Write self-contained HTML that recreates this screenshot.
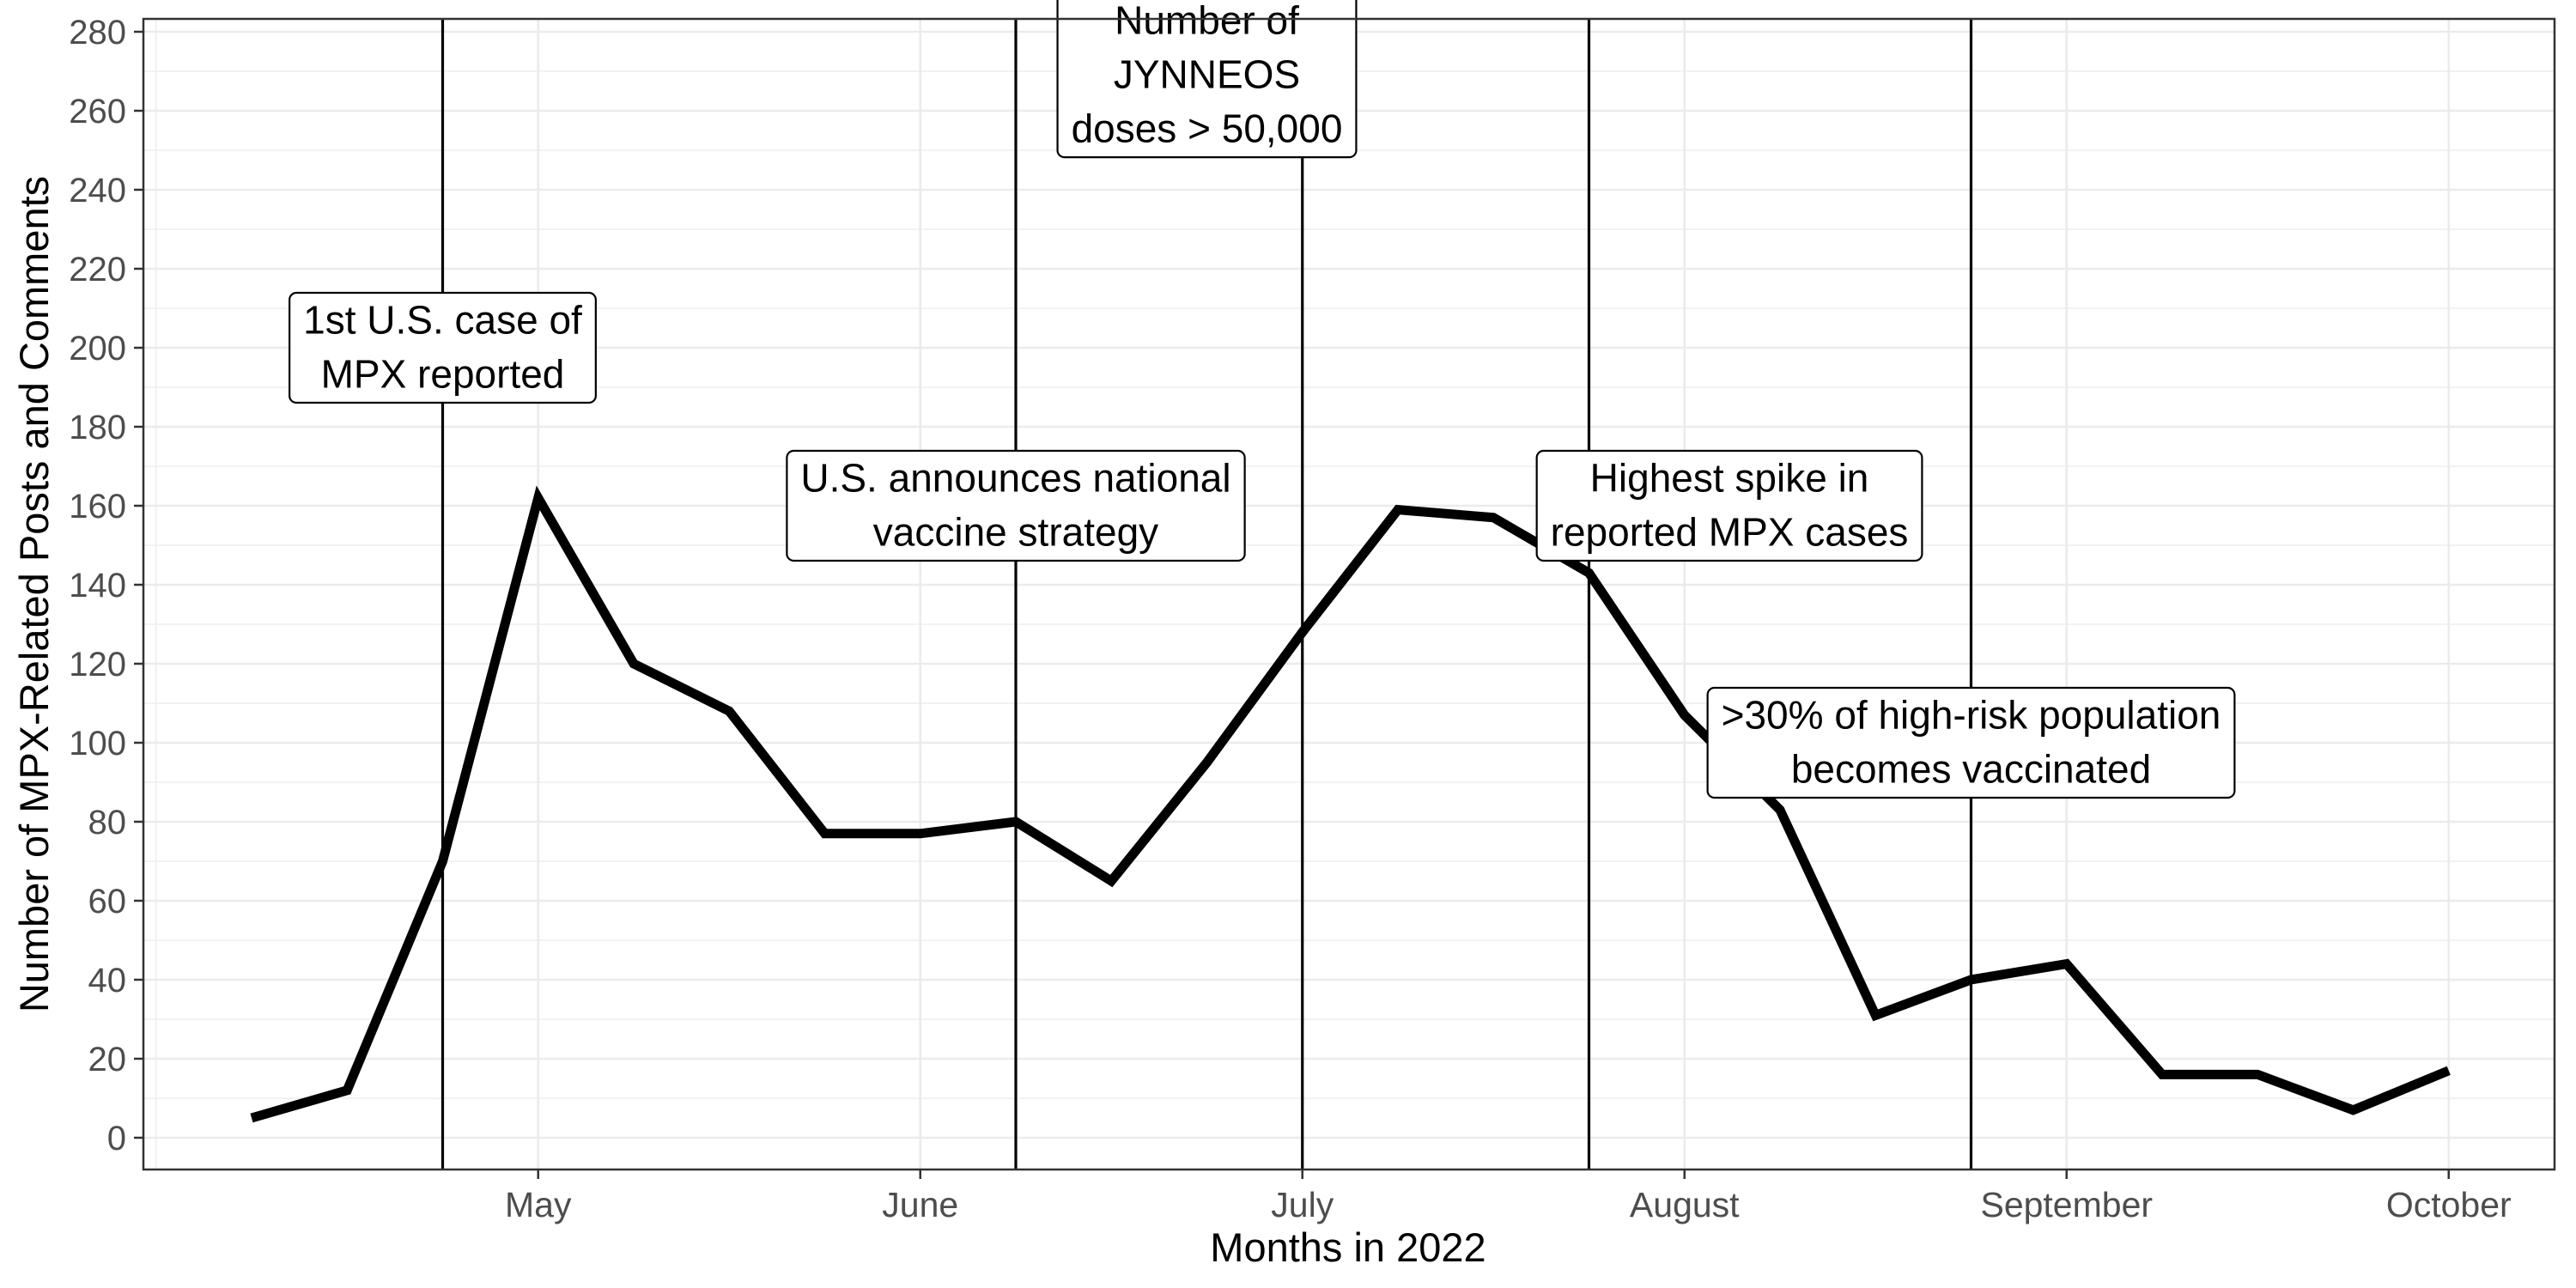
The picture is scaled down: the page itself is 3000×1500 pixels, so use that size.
<!DOCTYPE html>
<html><head><meta charset="utf-8">
<style>
html,body{margin:0;padding:0;background:#fff;}
svg{display:block;font-family:"Liberation Sans",Arial,sans-serif;}
</style></head>
<body>
<svg id="chart" width="3000" height="1500" viewBox="0 0 3000 1500" xmlns="http://www.w3.org/2000/svg">
<rect x="0" y="0" width="3000" height="1500" fill="#fff"/>
<g id="grid"></g>
<g id="vlines"></g>
<g id="series"></g>
<g id="labels"></g>
<rect x="167" y="22" width="2808" height="1340" fill="none" stroke="#333" stroke-width="2.5"/>
<g id="axes"></g>
<text x="1570" y="1469" font-size="47" text-anchor="middle" fill="#000">Months in 2022</text>
<text transform="translate(56,692) rotate(-90)" font-size="47" text-anchor="middle" fill="#000">Number of MPX-Related Posts and Comments</text>
</svg>
<script>
const values = [5,12,70,162,120,108,77,77,80,65,95,128,159,157,143,107,83,31,40,44,16,16,7,17];
const monthLabels = ["May","June","July","August","September","October"];
const monthIndex = [3,7,11,15,19,23];
const yTicks = [0,20,40,60,80,100,120,140,160,180,200,220,240,260,280];
const eventIndex = [2,8,11,14,18];
const eventText = [["1st U.S. case of","MPX reported"],["U.S. announces national","vaccine strategy"],["Number of","JYNNEOS","doses > 50,000"],["Highest spike in","reported MPX cases"],[">30% of high-risk population","becomes vaccinated"]];
const eventLabelY = [200,160,269,160,100];
const eventLabelXShift = [0,0,-1,1.47,0];

const NS="http://www.w3.org/2000/svg";
const PL=167,PR=2975,PT=22,PB=1362;
function X(i){return 293+i*111.25;}
function Y(v){return 1325-v*4.6;}
function mk(tag,attrs,parent){const e=document.createElementNS(NS,tag);for(const k in attrs)e.setAttribute(k,attrs[k]);parent.appendChild(e);return e;}
const grid=document.getElementById('grid'),vl=document.getElementById('vlines'),ser=document.getElementById('series'),lab=document.getElementById('labels'),ax=document.getElementById('axes');

for(let v=-10;v<=290;v+=20){const y=Y(v);if(y<PT||y>PB)continue;
 const l=mk('line',{x1:PL,x2:PR,y1:y,y2:y,stroke:'#ebebeb','stroke-width':1.3},grid);
 
 }
for(let i=-1;i<=25;i+=4){const x=X(i);if(x<PL||x>PR)continue;
 const l=mk('line',{x1:x,x2:x,y1:PT,y2:PB,stroke:'#ebebeb','stroke-width':1.3},grid);
 
 }
yTicks.forEach(v=>{const y=Y(v);
 const l=mk('line',{x1:PL,x2:PR,y1:y,y2:y,stroke:'#ebebeb','stroke-width':2.6},grid);
 
 
 const t=mk('line',{x1:PL-11,x2:PL,y1:y,y2:y,stroke:'#333','stroke-width':2.5},ax);
 
 
 const tx=mk('text',{x:PL-20,y:y+14,'font-size':40,'text-anchor':'end',fill:'#4d4d4d'},ax);
 
 
 tx.textContent=v;});
monthIndex.forEach((mi,k)=>{const x=X(mi);
 const l=mk('line',{x1:x,x2:x,y1:PT,y2:PB,stroke:'#ebebeb','stroke-width':2.6},grid);
 
 
 const t=mk('line',{x1:x,x2:x,y1:PB,y2:PB+11,stroke:'#333','stroke-width':2.5},ax);
 
 
 const tx=mk('text',{x:x,y:1417,'font-size':41,'text-anchor':'middle',fill:'#4d4d4d'},ax);
 
 
 tx.textContent=monthLabels[k];});
eventIndex.forEach(i=>{const x=X(i);
 const l=mk('line',{x1:x,x2:x,y1:PT,y2:PB,stroke:'#000','stroke-width':3.2},vl);
 
 });
const pts=values.map((v,i)=>X(i)+','+Y(v)).join(' ');
const pl=mk('polyline',{points:pts,fill:'none',stroke:'#000','stroke-width':11,'stroke-linejoin':'miter','stroke-miterlimit':4},ser);


const svg=document.getElementById('chart');
const tmp=mk('text',{'font-size':46},svg);
eventIndex.forEach((ei,k)=>{
 const lines=eventText[k];
 const cx=X(ei+eventLabelXShift[k]),cy=Y(eventLabelY[k]);
 let w=0;lines.forEach(s=>{tmp.textContent=s;w=Math.max(w,tmp.getComputedTextLength());});
 const lh=63,h=lines.length*lh+2;
 const g=mk('g',{},lab);
 
 
 mk('rect',{x:cx-w/2-16,y:cy-h/2,width:w+32,height:h,rx:8,fill:'#fff',stroke:'#000','stroke-width':2.2},g);
 lines.forEach((s,j)=>{const t=mk('text',{x:cx,y:cy-h/2+lh*(j+0.5)+16,'font-size':46,'text-anchor':'middle',fill:'#000'},g);t.textContent=s;});
});
tmp.remove();
</script>
</body></html>
